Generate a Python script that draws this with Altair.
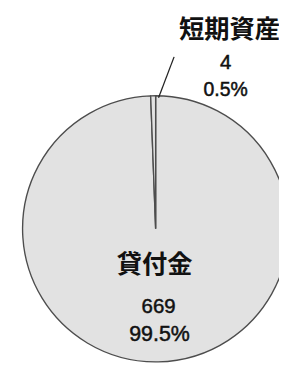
import altair as alt
import pandas as pd

categories = ["貸付金", "短期資産"]
values = [669, 4]
percents = ["99.5%", "0.5%"]
order = [0, 1]

df = pd.DataFrame({"cat": categories, "value": values, "pct": percents, "order": order})

CX, CY, R = 152, 222, 137
FILL = "#e2e2e2"
EDGE = "#4d4d4d"
TXT = "#111111"
JP = "Noto Sans CJK JP"
NUM = "Liberation Sans"
NUM_STYLE = dict(font=NUM, color=TXT, stroke=TXT, strokeWidth=0.5,
                 align="center", baseline="alphabetic")

pie = alt.Chart(df).mark_arc(radius=R, stroke=EDGE, strokeWidth=1.4).encode(
    theta=alt.Theta("value:Q", stack=True),
    order=alt.Order("order:Q"),
    x=alt.value(CX),
    y=alt.value(CY),
    color=alt.value(FILL),
)

leader = alt.Chart(df).transform_filter(alt.datum.order == 1).mark_rule(
    color="#222222", strokeWidth=1.3
).encode(x=alt.value(155), y=alt.value(87), x2=alt.value(171), y2=alt.value(45))

big = df[df.order == 0]
small = df[df.order == 1]

big_name = alt.Chart(big).mark_text(font=JP, fontSize=26, fontWeight="bold", color=TXT,
                                    align="center", baseline="alphabetic").encode(
    text="cat:N", x=alt.value(151), y=alt.value(268))
big_val = alt.Chart(big).mark_text(fontSize=21, **NUM_STYLE).encode(
    text="value:Q", x=alt.value(155), y=alt.value(309))
big_pct = alt.Chart(big).mark_text(fontSize=22, **NUM_STYLE).encode(
    text="pct:N", x=alt.value(156), y=alt.value(337))

small_name = alt.Chart(small).mark_text(font=JP, fontSize=26, fontWeight="bold", color=TXT,
                                        align="left", baseline="alphabetic").encode(
    text="cat:N", x=alt.value(176), y=alt.value(26))
small_val = alt.Chart(small).mark_text(fontSize=21, **NUM_STYLE).encode(
    text="value:Q", x=alt.value(224), y=alt.value(57))
small_pct = alt.Chart(small).mark_text(fontSize=20, **NUM_STYLE).encode(
    text="pct:N", x=alt.value(224), y=alt.value(85))

chart = alt.layer(pie, leader, big_name, big_val, big_pct, small_name, small_val, small_pct).properties(
    width=279, height=361, padding=0, autosize="none", background="white"
).configure_view(stroke=None)

chart.save("out.html", embed_options={"renderer": "svg", "actions": False})
